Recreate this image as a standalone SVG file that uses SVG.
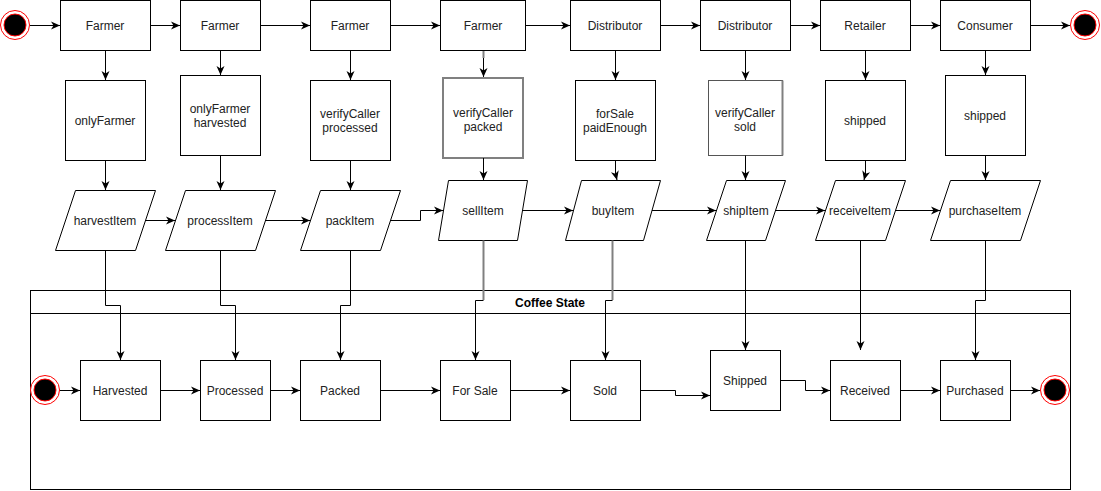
<svg xmlns="http://www.w3.org/2000/svg" width="1101" height="491" viewBox="0 0 1101 491">
<defs>
<marker id="ah" markerWidth="10" markerHeight="10" refX="9" refY="5" orient="auto" markerUnits="userSpaceOnUse">
<path d="M0,1 L9,5 L0,9 L2.5,5 z" fill="#000"/>
</marker>
<style>
.box{fill:#fff;stroke:#000;stroke-width:1}
.gbox{fill:#fff;stroke:#808080;stroke-width:2}
.t{font-family:"Liberation Sans",Arial,sans-serif;font-size:12px;fill:#222;text-anchor:middle;dominant-baseline:central;transform:translate(0px,1px)}
.tb{font-family:"Liberation Sans",Arial,sans-serif;font-size:12px;font-weight:bold;fill:#000;text-anchor:middle;dominant-baseline:central;transform:translate(0px,1px)}
.c{fill:none;stroke:#000;stroke-width:1;marker-end:url(#ah)}
.l{fill:none;stroke:#000;stroke-width:1}
.g{fill:none;stroke:#808080;stroke-width:2}
.ring{fill:#fff;stroke:#ff0000;stroke-width:1}
.dot{fill:#000;stroke:#ff0000;stroke-width:1}
</style>
</defs>
<rect width="1101" height="491" fill="#fff"/>

<g id="container">
<rect x="30.5" y="290.5" width="1040" height="199" fill="none" stroke="#000"/>
<line x1="30.5" y1="313.5" x2="1070.5" y2="313.5" stroke="#000"/>
<text class="tb" x="550" y="302">Coffee State</text>
</g>

<g id="start-top"><circle class="ring" cx="15" cy="25" r="14.5"/><circle class="dot" cx="15" cy="25" r="11"/></g>
<g id="end-top"><circle class="ring" cx="1085" cy="25" r="14.5"/><circle class="dot" cx="1085" cy="25" r="11"/></g>
<g id="start-bottom"><circle class="ring" cx="45" cy="390" r="14.5"/><circle class="dot" cx="45" cy="390" r="11"/></g>
<g id="end-bottom"><circle class="ring" cx="1055" cy="390" r="14.5"/><circle class="dot" cx="1055" cy="390" r="11"/></g>

<g id="actor1"><rect class="box" x="60.5" y="0.5" width="90" height="50"/><text class="t" x="105" y="25">Farmer</text></g>
<g id="actor2"><rect class="box" x="180.5" y="0.5" width="80" height="50"/><text class="t" x="220" y="25">Farmer</text></g>
<g id="actor3"><rect class="box" x="310.5" y="0.5" width="80" height="50"/><text class="t" x="350" y="25">Farmer</text></g>
<g id="actor4"><rect class="box" x="440.5" y="0.5" width="85" height="50"/><text class="t" x="483" y="25">Farmer</text></g>
<g id="actor5"><rect class="box" x="570.5" y="0.5" width="90" height="50"/><text class="t" x="615" y="25">Distributor</text></g>
<g id="actor6"><rect class="box" x="700.5" y="0.5" width="90" height="50"/><text class="t" x="745" y="25">Distributor</text></g>
<g id="actor7"><rect class="box" x="820.5" y="0.5" width="90" height="50"/><text class="t" x="865" y="25">Retailer</text></g>
<g id="actor8"><rect class="box" x="940.5" y="0.5" width="90" height="50"/><text class="t" x="985" y="25">Consumer</text></g>

<g id="cond1"><rect class="box" x="65.5" y="80.5" width="80" height="80"/><text class="t" x="105" y="120">onlyFarmer</text></g>
<g id="cond2"><rect class="box" x="180.5" y="75.5" width="80" height="80"/><text class="t" x="220" y="108">onlyFarmer</text><text class="t" x="220" y="122">harvested</text></g>
<g id="cond3"><rect class="box" x="310.5" y="80.5" width="80" height="80"/><text class="t" x="350" y="113">verifyCaller</text><text class="t" x="350" y="127">processed</text></g>
<g id="cond4"><rect class="gbox" x="443" y="78" width="80" height="80"/><text class="t" x="483" y="112">verifyCaller</text><text class="t" x="483" y="126">packed</text></g>
<g id="cond5"><rect class="box" x="575.5" y="80.5" width="80" height="80"/><text class="t" x="615" y="113">forSale</text><text class="t" x="615" y="127">paidEnough</text></g>
<g id="cond6"><rect x="708.5" y="80.5" width="74" height="75" fill="#fff" stroke="#555" stroke-width="1"/><line x1="782.5" y1="80.5" x2="782.5" y2="155.5" stroke="#808080" stroke-width="2"/><text class="t" x="745" y="112">verifyCaller</text><text class="t" x="745" y="126">sold</text></g>
<g id="cond7"><rect class="box" x="825.5" y="80.5" width="80" height="80"/><text class="t" x="865" y="120">shipped</text></g>
<g id="cond8"><rect class="box" x="945.5" y="75.5" width="80" height="80"/><text class="t" x="985" y="115">shipped</text></g>

<g id="fn1"><polygon class="box" points="75.5,190.5 155.5,190.5 135.5,250.5 55.5,250.5"/><text class="t" x="105" y="220">harvestItem</text></g>
<g id="fn2"><polygon class="box" points="185.5,190.5 275.5,190.5 255.5,250.5 165.5,250.5"/><text class="t" x="220" y="220">processItem</text></g>
<g id="fn3"><polygon class="box" points="320.5,190.5 400.5,190.5 380.5,250.5 300.5,250.5"/><text class="t" x="350" y="220">packItem</text></g>
<g id="fn4"><polygon class="box" points="448.5,180.5 527.5,180.5 517.5,240.5 438.5,240.5"/><text class="t" x="483" y="210">sellItem</text></g>
<g id="fn5"><polygon class="box" points="581.5,180.5 660.5,180.5 643.5,240.5 565.5,240.5"/><text class="t" x="613" y="210">buyItem</text></g>
<g id="fn6"><polygon class="box" points="726.5,180.5 785.5,180.5 765.5,240.5 706.5,240.5"/><text class="t" x="746" y="210">shipItem</text></g>
<g id="fn7"><polygon class="box" points="835.5,180.5 905.5,180.5 885.5,240.5 815.5,240.5"/><text class="t" x="860" y="210">receiveItem</text></g>
<g id="fn8"><polygon class="box" points="950.5,180.5 1040.5,180.5 1020.5,240.5 930.5,240.5"/><text class="t" x="985" y="210">purchaseItem</text></g>

<g id="st1"><rect class="box" x="80.5" y="360.5" width="80" height="60"/><text class="t" x="120" y="390">Harvested</text></g>
<g id="st2"><rect class="box" x="200.5" y="360.5" width="70" height="60"/><text class="t" x="235" y="390">Processed</text></g>
<g id="st3"><rect class="box" x="300.5" y="360.5" width="80" height="60"/><text class="t" x="340" y="390">Packed</text></g>
<g id="st4"><rect class="box" x="440.5" y="360.5" width="70" height="60"/><text class="t" x="475" y="390">For Sale</text></g>
<g id="st5"><rect class="box" x="570.5" y="360.5" width="70" height="60"/><text class="t" x="605" y="390">Sold</text></g>
<g id="st6"><rect class="box" x="710.5" y="350.5" width="70" height="60"/><text class="t" x="745" y="380">Shipped</text></g>
<g id="st7"><rect class="box" x="830.5" y="360.5" width="70" height="60"/><text class="t" x="865" y="390">Received</text></g>
<g id="st8"><rect class="box" x="940.5" y="360.5" width="70" height="60"/><text class="t" x="975" y="390">Purchased</text></g>

<g id="connectors">
<path class="c" d="M30,25.5 H60"/>
<path class="c" d="M150.5,25.5 H180"/>
<path class="c" d="M260.5,25.5 H310"/>
<path class="c" d="M390.5,25.5 H440"/>
<path class="c" d="M525.5,25.5 H570"/>
<path class="c" d="M660.5,25.5 H700"/>
<path class="c" d="M790.5,25.5 H820"/>
<path class="c" d="M910.5,25.5 H940"/>
<path class="c" d="M1030.5,25.5 H1070"/>

<path class="c" d="M105.5,50.5 V80"/>
<path class="c" d="M220.5,50.5 V75"/>
<path class="c" d="M350.5,50.5 V80"/>
<path class="g" d="M483.5,51 V58"/>
<path class="c" d="M483.5,58 V77"/>
<path class="c" d="M615.5,50.5 V80"/>
<path class="c" d="M745.5,50.5 V80"/>
<path class="c" d="M865.5,50.5 V80"/>
<path class="c" d="M985.5,50.5 V75"/>

<path class="c" d="M105.5,160.5 V190"/>
<path class="c" d="M220.5,155.5 V190"/>
<path class="c" d="M350.5,160.5 V190"/>
<path class="c" d="M483.5,158 V180"/>
<path class="c" d="M615.5,160.5 V174 L617,180"/>
<path class="c" d="M745.5,155.5 V180"/>
<path class="c" d="M865.5,160.5 V174 L864,180"/>
<path class="c" d="M985.5,155.5 V180"/>

<path class="c" d="M145.5,220.5 H175"/>
<path class="c" d="M265.5,220.5 H310"/>
<path class="c" d="M390.5,220.5 H420.5 V210.5 H443"/>
<path class="c" d="M522.5,210.5 H573"/>
<path class="c" d="M652,210.5 H716"/>
<path class="c" d="M775.5,210.5 H825"/>
<path class="c" d="M895.5,210.5 H940"/>

<path class="c" d="M105.5,250.5 V305.5 H120.5 V360"/>
<path class="c" d="M220.5,250.5 V305.5 H235.5 V360"/>
<path class="c" d="M350.5,250.5 V305.5 H340.5 V360"/>
<path class="g" d="M483.5,240.5 V300"/>
<path class="c" d="M483.5,300.5 H475.5 V360"/>
<path class="g" d="M612.5,240.5 V300"/>
<path class="c" d="M612.5,300.5 H605.5 V360"/>
<path class="c" d="M745.5,240.5 V350"/>
<path class="c" d="M860.5,240.5 V350"/>
<path class="c" d="M985.5,240.5 V300.5 H975.5 V360"/>

<path class="c" d="M60,390.5 H80"/>
<path class="c" d="M160.5,390.5 H200"/>
<path class="c" d="M270.5,390.5 H300"/>
<path class="c" d="M380.5,390.5 H440"/>
<path class="c" d="M510.5,390.5 H570"/>
<path class="c" d="M640.5,390.5 H675.5 V395.5 H710"/>
<path class="c" d="M780.5,380.5 H805.5 V390.5 H830"/>
<path class="c" d="M900.5,390.5 H940"/>
<path class="c" d="M1010.5,390.5 H1040"/>
</g>
</svg>
